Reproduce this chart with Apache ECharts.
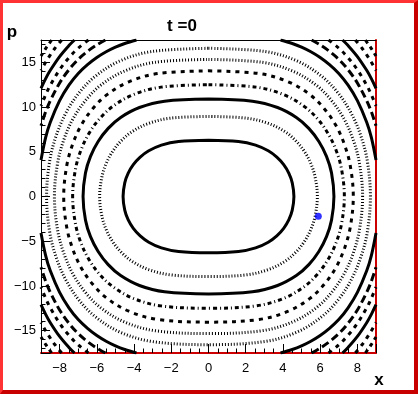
<!DOCTYPE html>
<html><head><meta charset="utf-8">
<script src="https://cdn.jsdelivr.net/npm/echarts@6/dist/echarts.min.js"></script>
<style>
html,body{margin:0;padding:0;background:#fff;}
#c{position:absolute;left:0;top:0;width:418px;height:394px;}
#b{position:absolute;left:0;top:0;width:418px;height:394px;box-sizing:border-box;
border-left:3px solid #ff3333;border-top:3px solid #ff3333;border-right:4px solid #c80000;border-bottom:4px solid #c80000;pointer-events:none;}
</style></head><body><div id="c"></div><div id="b"></div>
<script>
// ---- data (first quadrant, mirrored by symmetry) ----
const xTickLabels = [-8, -6, -4, -2, 0, 2, 4, 6, 8];
const pTickLabels = [-15, -10, -5, 0, 5, 10, 15];
const titleText = 't =0';
const xName = 'x';
const pName = 'p';
const bluePoint = [5.9, -2.2];

// closed contours: x and p values from (0,P) to (X,0)
const c1x = [0, 1.61, 2.53, 3.21, 3.67, 4.04, 4.32, 4.50, 4.59];
const c1p = [6.30, 6.16, 5.75, 5.11, 4.40, 3.56, 2.59, 1.53, 0];
const c2x = [0, 2.05, 3.22, 4.10, 4.68, 5.15, 5.50, 5.73, 5.85];
const c2p = [8.95, 8.76, 8.17, 7.26, 6.25, 5.05, 3.68, 2.17, 0];
const c3x = [0, 2.36, 3.71, 4.72, 5.39, 5.93, 6.34, 6.61, 6.74];
const c3p = [10.90, 10.66, 9.95, 8.84, 7.62, 6.15, 4.49, 2.64, 0];
const c4x = [0, 2.56, 4.02, 5.11, 5.84, 6.42, 6.86, 7.15, 7.30];
const c4p = [12.50, 12.23, 11.41, 10.13, 8.73, 7.06, 5.15, 3.03, 0];
const c5x = [0, 2.72, 4.28, 5.45, 6.22, 6.85, 7.31, 7.62, 7.78];
const c5p = [14.05, 13.75, 12.83, 11.39, 9.82, 7.93, 5.78, 3.41, 0];
const c6x = [0, 2.90, 4.55, 5.80, 6.62, 7.29, 7.78, 8.11, 8.28];
const c6p = [15.33, 15.00, 14.00, 12.43, 10.71, 8.65, 6.31, 3.72, 0];
const c7x = [0, 3.05, 4.79, 6.09, 6.96, 7.66, 8.18, 8.53, 8.70];
const c7p = [16.57, 16.21, 15.13, 13.43, 11.58, 9.35, 6.82, 4.02, 0];

// open contours in the corners: from the top edge to the right edge
const o8x = [3.87, 4.5, 5, 5.5, 6, 6.5, 7, 7.5, 8, 8.5, 8.75, 9];
const o8p = [17.5, 17.11, 16.70, 16.18, 15.54, 14.74, 13.76, 12.45, 10.72, 8.31, 6.60, 4.07];
const o9x = [5.54, 6, 6.5, 7, 7.5, 8, 8.5, 8.75, 9];
const o9p = [17.5, 16.95, 16.23, 15.34, 14.18, 12.69, 10.72, 9.47, 7.91];
const o10x = [6.45, 7, 7.5, 8, 8.5, 8.75, 9];
const o10p = [17.5, 16.59, 15.52, 14.18, 12.45, 11.38, 10.13];
const o11x = [7.2, 7.5, 8, 8.5, 8.75, 9];
const o11p = [17.5, 16.88, 15.65, 14.11, 13.18, 12.1];
const o12x = [7.89, 8.25, 8.5, 8.75, 9];
const o12p = [17.5, 16.58, 15.84, 15.02, 14.09];
const o13x = [8.43, 8.75, 9];
const o13p = [17.5, 16.54, 15.7];

// ---- styles ----
const dashTypes = {
  solid: 'solid',
  dot: [1, 2],
  dashdot: [4, 3, 1, 3],
  dash: [4, 5],
  longdash: [8, 4],
  shortdash: [4, 4]
};
const closedList = [[c1x, c1p], [c2x, c2p], [c3x, c3p], [c4x, c4p], [c5x, c5p], [c6x, c6p], [c7x, c7p]];
const closedStyle = ['solid', 'dot', 'solid', 'dashdot', 'dash', 'dot', 'dot'];
const openList = [[o8x, o8p], [o9x, o9p], [o10x, o10p], [o11x, o11p], [o12x, o12p], [o13x, o13p]];
const openStyle = ['solid', 'longdash', 'dash', 'solid', 'dash', 'shortdash'];

function closedLoop(xs, ps) {
  const pts = [];
  for (let i = 0; i < xs.length; i++) pts.push([xs[i], ps[i]]);
  for (let i = xs.length - 2; i >= 0; i--) pts.push([xs[i], -ps[i]]);
  for (let i = 1; i < xs.length; i++) pts.push([-xs[i], -ps[i]]);
  for (let i = xs.length - 2; i >= 0; i--) pts.push([-xs[i], ps[i]]);
  return pts;
}
function lineSeries(data, style) {
  return {
    type: 'line', data: data, smooth: 0.35, symbol: 'none', silent: true,
    animation: false, clip: true, z: 2,
    lineStyle: {color: '#000', width: 3, type: dashTypes[style], cap: 'butt'}
  };
}
const series = [];
closedList.forEach((c, i) => series.push(lineSeries(closedLoop(c[0], c[1]), closedStyle[i])));
openList.forEach((o, i) => {
  [[1, 1], [-1, 1], [1, -1], [-1, -1]].forEach(s => {
    series.push(lineSeries(o[0].map((x, k) => [s[0] * x, s[1] * o[1][k]]), openStyle[i]));
  });
});
series.push({type: 'scatter', data: [bluePoint], symbol: 'circle', symbolSize: 7,
  itemStyle: {color: '#0000ff'}, z: 5, silent: true, animation: false});

const fmt = v => String(v).replace('-', '\u2212');
const FONT = '"Liberation Sans", Arial, sans-serif';

const chart = echarts.init(document.getElementById('c'), null, {renderer: 'canvas'});
chart.setOption({
  animation: false,
  backgroundColor: '#fff',
  grid: {left: 41, right: 42, top: 40, bottom: 41, containLabel: false},
  xAxis: [
    {type: 'value', min: -9, max: 9, position: 'bottom', minInterval: 2, maxInterval: 2, splitNumber: 9,
      axisLine: {show: true, onZero: false, lineStyle: {color: '#cc0000', width: 2}},
      axisTick: {show: true, inside: true, length: 9, lineStyle: {color: '#000', width: 1}},
      axisLabel: {show: true, margin: 9, color: '#000', fontSize: 13, fontFamily: FONT,
        formatter: v => xTickLabels.includes(v) ? fmt(v) : ''},
      splitLine: {show: false}},
    {type: 'value', min: -9, max: 9, position: 'bottom', minInterval: 0.5, maxInterval: 0.5, splitNumber: 36,
      axisLine: {show: false, onZero: false},
      axisTick: {show: true, inside: true, length: 4.5, lineStyle: {color: '#000', width: 1}},
      axisLabel: {show: false}, splitLine: {show: false}},
    {type: 'value', min: -9, max: 9, position: 'top',
      axisLine: {show: true, onZero: false, lineStyle: {color: '#000', width: 1}},
      axisTick: {show: false}, axisLabel: {show: false}, splitLine: {show: false}}
  ],
  yAxis: [
    {type: 'value', min: -17.5, max: 17.5, position: 'left', minInterval: 5, maxInterval: 5, splitNumber: 7,
      axisLine: {show: true, onZero: false, lineStyle: {color: '#000', width: 1}},
      axisTick: {show: true, inside: true, length: 9, lineStyle: {color: '#000', width: 1}},
      axisLabel: {show: true, margin: 5, color: '#000', fontSize: 13, fontFamily: FONT,
        formatter: v => pTickLabels.includes(v) ? fmt(v) : ''},
      splitLine: {show: false}},
    {type: 'value', min: -17.5, max: 17.5, position: 'left', minInterval: 1, maxInterval: 1, splitNumber: 35,
      axisLine: {show: false, onZero: false},
      axisTick: {show: true, inside: true, length: 4.5, lineStyle: {color: '#000', width: 1}},
      axisLabel: {show: false}, splitLine: {show: false}},
    {type: 'value', min: -17.5, max: 17.5, position: 'right',
      axisLine: {show: true, onZero: false, lineStyle: {color: '#cc0000', width: 2}},
      axisTick: {show: false}, axisLabel: {show: false}, splitLine: {show: false}}
  ],
  graphic: [
    {type: 'text', x: 182, y: 26, z: 10, style: {text: titleText, font: 'bold 17px ' + FONT,
      fill: '#000', textAlign: 'center', textVerticalAlign: 'middle', align: 'center', verticalAlign: 'middle'}},
    {type: 'text', x: 12, y: 32, z: 10, style: {text: pName, font: 'bold 17px ' + FONT,
      fill: '#000', textAlign: 'center', textVerticalAlign: 'middle', align: 'center', verticalAlign: 'middle'}},
    {type: 'text', x: 379, y: 380.5, z: 10, style: {text: xName, font: 'bold 17px ' + FONT,
      fill: '#000', textAlign: 'center', textVerticalAlign: 'middle', align: 'center', verticalAlign: 'middle'}}
  ],
  series: series
});
</script>
</body></html>
